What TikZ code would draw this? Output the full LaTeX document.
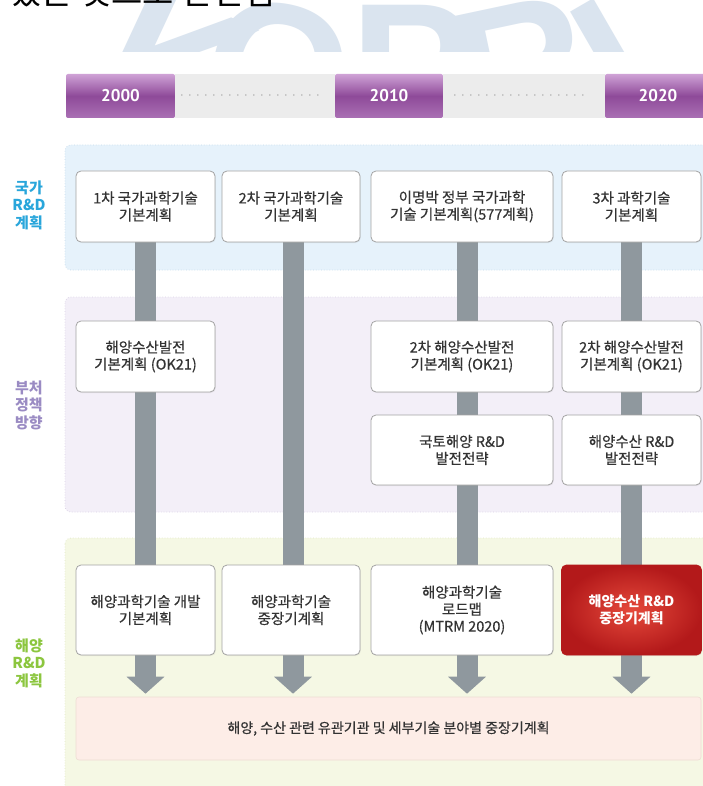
\documentclass[tikz,border=0pt]{standalone}
\usepackage{fontspec}
\setmainfont{Noto Sans CJK KR}
\newfontfamily\boxfont[FakeBold=0.5]{Noto Sans CJK KR}
\newfontfamily\yearfont{PT Sans}
\newfontfamily\wmfont{Liberation Sans}
\usetikzlibrary{arrows.meta,shadows}
\pgfdeclarelayer{panels}
\pgfdeclarelayer{bars}
\pgfsetlayers{panels,bars,main}
\definecolor{bluepanel}{HTML}{E6F2FB}
\definecolor{bluepanelb}{HTML}{C6DBEC}
\definecolor{purppanel}{HTML}{F3EFF8}
\definecolor{purppanelb}{HTML}{DAD1E6}
\definecolor{greenpanel}{HTML}{F5F8E4}
\definecolor{greenpanelb}{HTML}{E0E7C6}
\definecolor{pinkbox}{HTML}{FDEDE7}
\definecolor{pinkboxb}{HTML}{EEDCD3}
\definecolor{barc}{HTML}{8F989E}
\definecolor{boxb}{HTML}{A3A3A3}
\definecolor{txt}{HTML}{333333}
\definecolor{lblblue}{HTML}{29A6DB}
\definecolor{lblpurple}{HTML}{9A8BC3}
\definecolor{lblgreen}{HTML}{8CC63F}
\definecolor{wm}{HTML}{DAE4EF}
\definecolor{tlgray}{HTML}{ECECEC}
\definecolor{tldots}{HTML}{A0A0A0}
\definecolor{tltop}{HTML}{CFA2D6}
\definecolor{tlmid}{HTML}{8E4A99}
\definecolor{tlbot}{HTML}{AA70B4}
\definecolor{redin}{HTML}{E5493B}
\definecolor{redout}{HTML}{B3191A}
\begin{document}
\begin{tikzpicture}[x=1pt,y=-1pt,
  plan/.style={draw=boxb, line width=0.8pt, fill=white, rounded corners=5pt,
    align=center, font=\boxfont\fontsize{14.5}{17}\selectfont, text=txt, inner sep=0pt,
    drop shadow={opacity=0.12, shadow xshift=0.8pt, shadow yshift=-1pt}},
  redplan/.style={plan, draw=redout, inner color=redin, outer color=redout,
    text=white, font=\bfseries\fontsize{14}{17}\selectfont},
  lbl/.style={align=center, inner sep=0pt, font=\bfseries\fontsize{15}{17.5}\selectfont},
  yearbox/.style={minimum height=44pt, inner sep=0pt, text=white,
    font=\yearfont\bfseries\fontsize{17}{17}\selectfont,
    top color=tltop, bottom color=tlbot, middle color=tlmid, rounded corners=2pt},
  graybox/.style={minimum height=44pt, inner sep=0pt, fill=tlgray},
  tldotline/.style={draw=tldots, line width=1.6pt, line cap=round, dash pattern=on 0pt off 8pt},
  bar/.style={draw=barc, line width=21pt, -{Triangle[width=37pt,length=17pt,fill=barc]}},
  panel/.style={rounded corners=6pt, dotted, line width=0.7pt},
  wmletter/.style={anchor=north, inner sep=0pt, text=wm, font=\wmfont\bfseries\fontsize{185}{185}\selectfont},
  toptext/.style={anchor=south west, inner sep=0pt, text=black, font=\fontsize{34}{34}\selectfont}
]
\useasboundingbox (0,0) rectangle (703,786);

% ---------- boxes of the diagram ----------
\node[plan, minimum width=139pt, minimum height=71pt] (a1) at (145.5,206.5) {1차 국가과학기술\\기본계획};
\node[plan, minimum width=138pt, minimum height=71pt] (a2) at (291,206.5) {2차 국가과학기술\\기본계획};
\node[plan, minimum width=182pt, minimum height=71pt] (a3) at (462,206.5) {이명박 정부 국가과학\\기술 기본계획(577계획)};
\node[plan, minimum width=139pt, minimum height=71pt] (a4) at (631.5,206.5) {3차 과학기술\\기본계획};

\node[plan, minimum width=139pt, minimum height=71pt] (b1) at (145.5,356.5) {해양수산발전\\기본계획 (OK21)};
\node[plan, minimum width=182pt, minimum height=71pt] (b3) at (462,356.5) {2차 해양수산발전\\기본계획 (OK21)};
\node[plan, minimum width=139pt, minimum height=71pt] (b4) at (631.5,356.5) {2차 해양수산발전\\기본계획 (OK21)};
\node[plan, minimum width=182pt, minimum height=70pt] (c3) at (462,450) {국토해양 R\&D\\발전전략};
\node[plan, minimum width=139pt, minimum height=70pt] (c4) at (631.5,450) {해양수산 R\&D\\발전전략};

\node[plan, minimum width=139pt, minimum height=90pt] (d1) at (145.5,610) {해양과학기술 개발\\기본계획};
\node[plan, minimum width=138pt, minimum height=90pt] (d2) at (291,610) {해양과학기술\\중장기계획};
\node[plan, minimum width=182pt, minimum height=90pt] (d3) at (462,610) {해양과학기술\\로드맵\\(MTRM 2020)};
\node[redplan, minimum width=140pt, minimum height=90pt] (d4) at (631.5,610) {해양수산 R\&D\\중장기계획};

\node[draw=pinkboxb, fill=pinkbox, line width=0.6pt, rounded corners=3pt,
  minimum width=625pt, minimum height=63pt, inner sep=0pt, text=txt,
  font=\boxfont\fontsize{14}{16}\selectfont] (e) at (388.5,728.5) {해양, 수산 관련 유관기관 및 세부기술 분야별 중장기계획};

% ---------- side labels ----------
\node[lbl, text=lblblue] (l1) at (29,205) {국가\\R\&D\\계획};
\node[lbl, text=lblpurple] (l2) at (29,405) {부처\\정책\\방향};
\node[lbl, text=lblgreen] (l3) at (29,663) {해양\\R\&D\\계획};

% ---------- timeline ----------
\node[yearbox, minimum width=109pt] (y0) at (120.5,96) {2000};
\node[graybox, minimum width=160pt] (g1) at (255,96) {};
\node[yearbox, minimum width=108pt] (y1) at (389,96) {2010};
\node[graybox, minimum width=162pt] (g2) at (524,96) {};
\node[yearbox, minimum width=106pt] (y2) at (658,96) {2020};
\draw[tldotline] ([xshift=7pt,yshift=1pt]g1.west) -- ([xshift=-15pt,yshift=1pt]g1.east);
\draw[tldotline] ([xshift=12pt,yshift=1pt]g2.west) -- ([xshift=-15pt,yshift=1pt]g2.east);

% ---------- bars ----------
\coordinate (s1) at (a1.center);
\coordinate (s2) at ([xshift=2pt]a2.center);
\coordinate (s3) at ([xshift=5pt]a3.center);
\coordinate (s4) at (a4.center);
\begin{pgfonlayer}{bars}
\foreach \i in {1,2,3,4}
  \draw[bar, shorten >=3pt] (s\i) -- (s\i |- e.north);
\end{pgfonlayer}

% ---------- background: watermark, page text, panels ----------
\begin{pgfonlayer}{panels}
\fill[white] (0,0) rectangle (703,786);
\node[wmletter, rotate=-25] (wmK) at (205,5) {K};
\node[wmletter, rotate=-12] (wmO) at (292,5) {O};
\node[wmletter, rotate=0] (wmP) at (412,5) {P};
\node[wmletter, rotate=12] (wmR) at (508,5) {R};
\node[wmletter, rotate=30] (wmI) at (582,5) {I};
\node[toptext] (toptxt) at (10,7) {있는 것으로 판단됨};
\fill[white] (0,52) rectangle (703,786);
\draw[panel, fill=bluepanel, draw=bluepanelb] (65,145) rectangle (716,270);
\draw[panel, fill=purppanel, draw=purppanelb] (65,297) rectangle (716,512);
\draw[panel, fill=greenpanel, draw=greenpanelb] (65,538) rectangle (716,800);
\end{pgfonlayer}
\end{tikzpicture}
\end{document}
